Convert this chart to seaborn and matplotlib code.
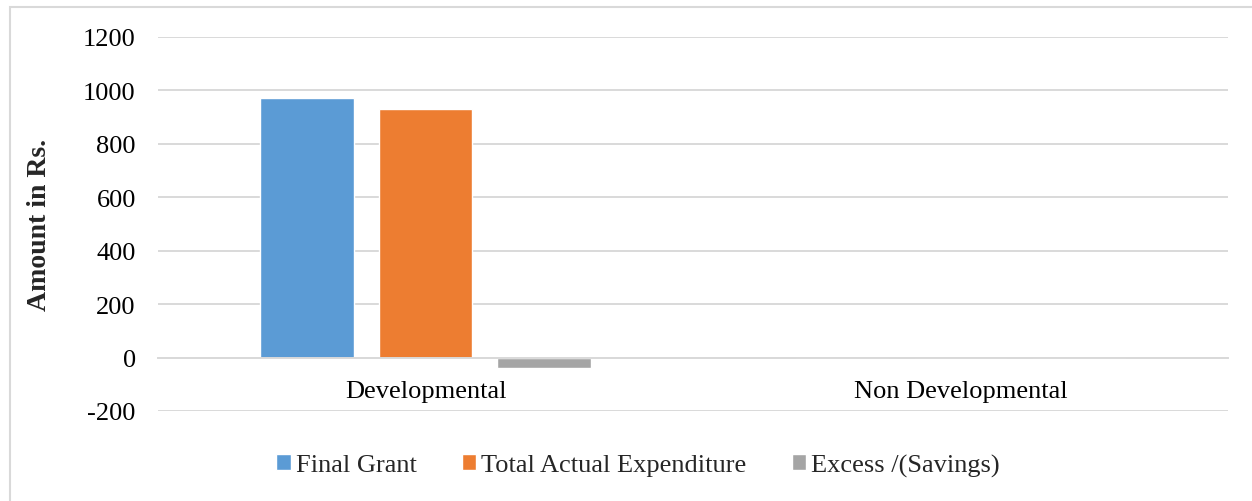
import matplotlib
matplotlib.use("Agg")
import matplotlib.pyplot as plt
from matplotlib.patches import Rectangle
import seaborn as sns
import pandas as pd

# Grant figures by head of account
categories = ["Developmental", "Non Developmental"]
series_names = ["Final Grant", "Total Actual Expenditure", "Excess /(Savings)"]
final_grant = [970, 0]
actual_expenditure = [932, 0]
excess_savings = [-38, 0]
y_ticks = [-200, 0, 200, 400, 600, 800, 1000, 1200]
colors = ["#5B9BD5", "#ED7D31", "#A5A5A5"]

rows = []
for name, values in zip(series_names, [final_grant, actual_expenditure, excess_savings]):
    for cat, v in zip(categories, values):
        rows.append({"Category": cat, "Series": name, "Amount": v})
df = pd.DataFrame(rows)

sns.set_theme(style="white")
plt.rcParams["font.family"] = ["Liberation Serif", "DejaVu Serif"]

fig = plt.figure(figsize=(12.52, 5.02), dpi=100)
ax = fig.add_axes([158 / 1252, 1 - 412 / 502, (1228 - 158) / 1252, (412 - 38) / 502])

sns.barplot(data=df, x="Category", y="Amount", hue="Series", order=categories,
            hue_order=series_names, palette=colors, width=0.664, gap=0.207,
            saturation=1, errorbar=None, ax=ax, legend=True)

grid_color = "#D9D9D9"
fs = 19
ax.set_xlim(-0.5, 1.5)
ax.set_ylim(-200, 1200)
ax.set_yticks(y_ticks)
ax.set_yticklabels([str(t) for t in y_ticks])
ax.yaxis.grid(True, color=grid_color, linewidth=1.4)
ax.set_axisbelow(True)
for side in ["left", "right", "top"]:
    ax.spines[side].set_visible(False)
ax.spines["bottom"].set_position(("data", 0))
ax.spines["bottom"].set_color(grid_color)
ax.spines["bottom"].set_linewidth(1.4)
ax.tick_params(axis="y", length=0, pad=16, labelsize=fs, labelcolor="black")
ax.tick_params(axis="x", length=0, pad=16, labelsize=fs, labelcolor="black")
ax.set_xlabel("")
ax.set_ylabel("Amount in Rs.", fontsize=20, fontweight="bold", labelpad=22)

handles, labels = ax.get_legend_handles_labels()
ax.legend_.remove()
fig.legend(handles, labels, loc="center", bbox_to_anchor=(638 / 1252, 1 - 466 / 502),
           ncol=3, frameon=False, fontsize=fs, handlelength=0.55, handleheight=0.55,
           handletextpad=0.2, columnspacing=1.7)

# light frame around the chart area
fig.patches.append(Rectangle((10 / 1252, -0.1), 1.2, 1 - 8 / 502 + 0.1,
                             transform=fig.transFigure, fill=False,
                             edgecolor=grid_color, linewidth=1.5))

fig.savefig("out.png", dpi=100)
